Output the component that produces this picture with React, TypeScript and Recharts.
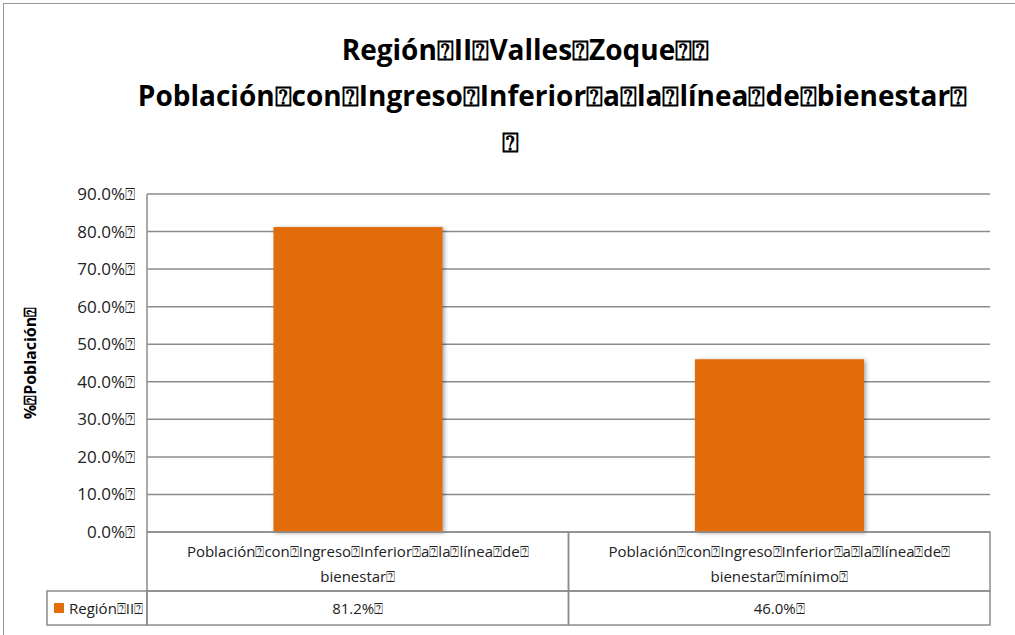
import React from "react";
import { BarChart, Bar, XAxis, YAxis, CartesianGrid } from "recharts";

const BOX = "\u2370";

const titleLines = [
  `Región${BOX}II${BOX}Valles${BOX}Zoque${BOX}${BOX}`,
  `Población${BOX}con${BOX}Ingreso${BOX}Inferior${BOX}a${BOX}la${BOX}línea${BOX}de${BOX}bienestar${BOX}`,
  `${BOX}`,
];
// horizontal nudge of each title line, as in the original
const titleShift = [18, 45, 3];

const categories = ["bienestar", "minimo"];
const categoryLines = [
  [`Población${BOX}con${BOX}Ingreso${BOX}Inferior${BOX}a${BOX}la${BOX}línea${BOX}de${BOX}`, `bienestar${BOX}`],
  [`Población${BOX}con${BOX}Ingreso${BOX}Inferior${BOX}a${BOX}la${BOX}línea${BOX}de${BOX}`, `bienestar${BOX}mínimo${BOX}`],
];
const values = [81.2, 46.0];
const yTicks = [0, 10, 20, 30, 40, 50, 60, 70, 80, 90];
const seriesName = `Región${BOX}II${BOX}`;
const yLabel = `%${BOX}Población${BOX}`;

const data = categories.map((c, i) => ({ cat: c, value: values[i] }));

const W = 1015;
const H = 635;
const PLOT_LEFT = 147;
const PLOT_RIGHT = 990;
const PLOT_TOP = 194;
const PLOT_BOTTOM = 532;
const ROW1 = 59;
const ROW2 = 34;
const BAND = (PLOT_RIGHT - PLOT_LEFT) / categories.length;
const FONT = "'Open Sans', sans-serif";
const GRID = "#8c8c8c";
const ORANGE = "#e36c0a";

const fmt = (v: number) => `${v.toFixed(1)}%${BOX}`;

function TableTick(props: any) {
  const { x, y, payload } = props;
  const i = payload.index;
  const left = x - BAND / 2;
  const lines = categoryLines[i];
  return (
    <g>
      <rect x={left} y={y} width={BAND} height={ROW1} fill="none" stroke={GRID} strokeWidth={1.5} />
      <rect x={left} y={y + ROW1} width={BAND} height={ROW2} fill="none" stroke={GRID} strokeWidth={1.5} />
      {lines.map((t, k) => (
        <text key={k} x={x} y={y + 25 + k * 25} textAnchor="middle" fontSize={15} fontFamily={FONT} fill="#222">
          {t}
        </text>
      ))}
      <text x={x} y={y + ROW1 + 23} textAnchor="middle" fontSize={15} fontFamily={FONT} fill="#222">
        {fmt(values[i])}
      </text>
      {i === 0 && (
        <g>
          <rect x={47} y={y + ROW1} width={left - 47} height={ROW2} fill="none" stroke={GRID} strokeWidth={1.5} />
          <rect x={54} y={y + ROW1 + 12} width={10} height={10} fill={ORANGE} />
          <text x={69} y={y + ROW1 + 23} fontSize={15} fontFamily={FONT} fill="#222">
            {seriesName}
          </text>
        </g>
      )}
    </g>
  );
}

function ShadowBar(props: any) {
  const { x, y, width, height, fill } = props;
  return (
    <rect
      x={x}
      y={y}
      width={width}
      height={height}
      fill={fill}
      style={{ filter: "drop-shadow(2px 1px 2px rgba(0,0,0,0.35))" }}
    />
  );
}

export default function App() {
  return (
    <div
      style={{
        position: "absolute",
        left: 0,
        top: 0,
        width: W,
        height: H,
        overflow: "hidden",
        background: "#fff",
        fontFamily: FONT,
      }}
    >
      <div
        style={{
          position: "absolute",
          left: 3,
          top: 3,
          width: W + 20,
          height: H + 20,
          border: "1.5px solid #999",
        }}
      />
      <div
        style={{
          position: "absolute",
          left: 0,
          top: 26,
          width: W,
          textAlign: "center",
          fontWeight: 700,
          fontSize: 28,
          lineHeight: "46px",
          color: "#000",
          whiteSpace: "nowrap",
        }}
      >
        {titleLines.map((t, k) => (
          <div key={k} style={{ transform: `translateX(${titleShift[k]}px)` }}>{t}</div>
        ))}
      </div>
      <div style={{ position: "absolute", left: 0, top: 0 }}>
        <BarChart
          width={W}
          height={H}
          data={data}
          margin={{ top: PLOT_TOP, right: W - PLOT_RIGHT, bottom: 0, left: 0 }}
          barCategoryGap="30%"
        >
          <CartesianGrid horizontal vertical={false} stroke={GRID} strokeWidth={1.5} />
          <YAxis
            width={PLOT_LEFT}
            domain={[0, 90]}
            ticks={yTicks}
            tickFormatter={fmt}
            axisLine={{ stroke: GRID, strokeWidth: 1.5 }}
            tickLine={false}
            tickMargin={6}
            tick={{ fill: "#222", fontSize: 17, fontFamily: FONT }}
            label={{
              value: yLabel,
              angle: -90,
              position: "insideLeft",
              offset: 30,
              style: { fontWeight: 700, fontSize: 16, fill: "#000", fontFamily: FONT, textAnchor: "middle" },
            }}
          />
          <XAxis
            dataKey="cat"
            height={H - PLOT_BOTTOM}
            axisLine={false}
            tickLine={false}
            tickSize={0}
            tickMargin={0}
            interval={0}
            tick={<TableTick />}
          />
          <Bar dataKey="value" fill={ORANGE} isAnimationActive={false} shape={<ShadowBar />} />
        </BarChart>
      </div>
    </div>
  );
}
